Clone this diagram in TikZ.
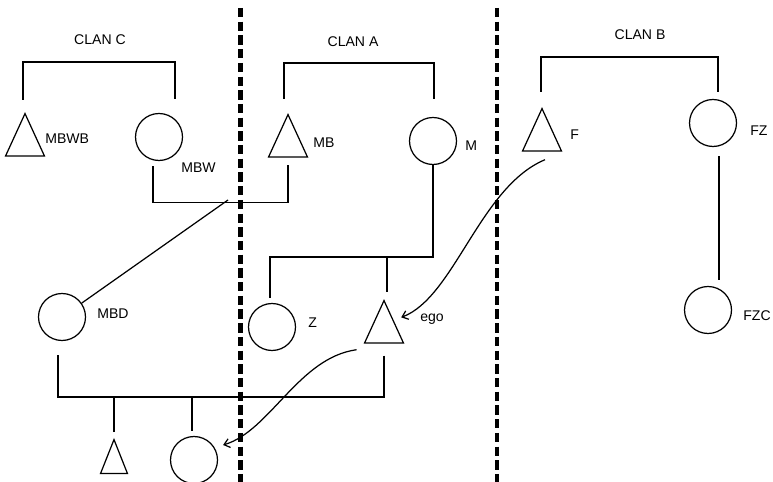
\documentclass[tikz,border=0pt]{standalone}
\usepackage{fontspec}
\setmainfont{Liberation Sans}
\usetikzlibrary{arrows.meta,shapes.geometric,calc}
\tikzset{
  >={Straight Barb[length=1.1mm,width=1.8mm]},
  kin/.style={draw,line width=0.7pt},
  male/.style={kin,isosceles triangle,isosceles triangle stretches,
    shape border rotate=90,inner sep=0pt,
    minimum width=0.78cm,minimum height=0.85cm,anchor=apex},
  female/.style={kin,circle,inner sep=0pt,minimum size=0.94cm},
  tag/.style={font=\footnotesize,anchor=west,inner sep=0pt},
  clan/.style={font=\footnotesize,inner sep=0pt},
  tie/.style={line width=0.7pt},
  descent/.style={->,line width=0.7pt},
  border/.style={line width=2.4pt,dash pattern=on 5.3pt off 2.5pt},
}
\begin{document}
\begin{tikzpicture}[x=0.02cm,y=-0.02cm]
  \useasboundingbox (0,0) rectangle (773,482);
  % clan borders
  \draw[border] (240.5,8) -- (240.5,482);
  \draw[border] (497,8) -- (497,482);
  % clan C
  \node[clan] (clanC) at (100,40) {CLAN C};
  \node[male] (mbwb) at (25,112) {};
  \node[female] (mbw) at (159,137) {};
  \node[tag] (tmbwb) at (45,139) {MBWB};
  \node[tag] (tmbw) at (181,168) {MBW};
  % clan A
  \node[clan] (clanA) at (353,42) {CLAN A};
  \node[male] (mb) at (288,113) {};
  \node[female] (m) at (433,141) {};
  \node[tag] (tmb) at (313,143) {MB};
  \node[tag] (tm) at (465,146) {M};
  % clan B
  \node[clan] (clanB) at (640,35) {CLAN B};
  \node[male] (f) at (542,107) {};
  \node[female] (fz) at (713,123) {};
  \node[female] (fzc) at (708,310) {};
  \node[tag] (tf) at (570,135) {F};
  \node[tag] (tfz) at (750,131) {FZ};
  \node[tag] (tfzc) at (743,316) {FZC};
  % second and third generation
  \node[female] (mbd) at (62,317) {};
  \node[female] (z) at (272,327) {};
  \node[male] (ego) at (384,299) {};
  \node[male,minimum width=0.54cm,minimum height=0.68cm] (son) at (114,438) {};
  \node[female] (dau) at (194,460) {};
  \node[tag] (tmbd) at (97,314) {MBD};
  \node[tag] (tz) at (308,323) {Z};
  \node[tag] (tego) at (420,319) {ego};
  \coordinate (wed) at (228,200);
  % sibling brackets
  \draw[tie] ($(mbwb.apex)+(-2,-12)$) -- ++(0,-38) -| ($(mbw.north)+(16,-14)$);
  \draw[tie] ($(mb.apex)+(-4,-14)$) -- ++(0,-36) -| ($(m.north)+(1,-18)$);
  \draw[tie] ($(f.apex)+(-1,-15)$) -- ++(0,-35) -| ($(fz.north)+(5,-7)$);
  % marriages and descent
  \draw[tie] ($(mbw.south)+(-6,5)$) |- ($(mb.lower side)+(0,45)$) -- ($(mb.lower side)+(0,7)$);
  \draw[tie] (wed) -- (mbd);
  \draw[tie] (m.south) -- ++(0,92) -| ($(z.north)+(-2,-5)$);
  \draw[tie] ($(ego.apex)+(3,-7)$) -- ++(0,-36);
  \draw[tie] ($(ego.lower side)+(0,12)$) |- ($(mbd.south)+(-4,56)$) -- ($(mbd.south)+(-4,14)$);
  \draw[tie] ($(son.apex)+(0,-6)$) -- ++(0,-36);
  \draw[tie] ($(dau.north)+(-2,-5)$) -- ++(0,-35);
  \draw[tie] ($(fz.south)+(6,9)$) -- ($(fzc.north)+(11,-6)$);
  % clan membership passing down
  \draw[descent] ($(f.lower side)+(3,8)$) .. controls +(-65,27) and +(53,-20) .. ($(ego.right side)+(7,-4)$);
  \draw[descent] ($(ego.left corner)+(-7,6)$) .. controls +(-58,8) and +(47,-14) .. ($(dau.east)+(5,-15)$);
\end{tikzpicture}
\end{document}
